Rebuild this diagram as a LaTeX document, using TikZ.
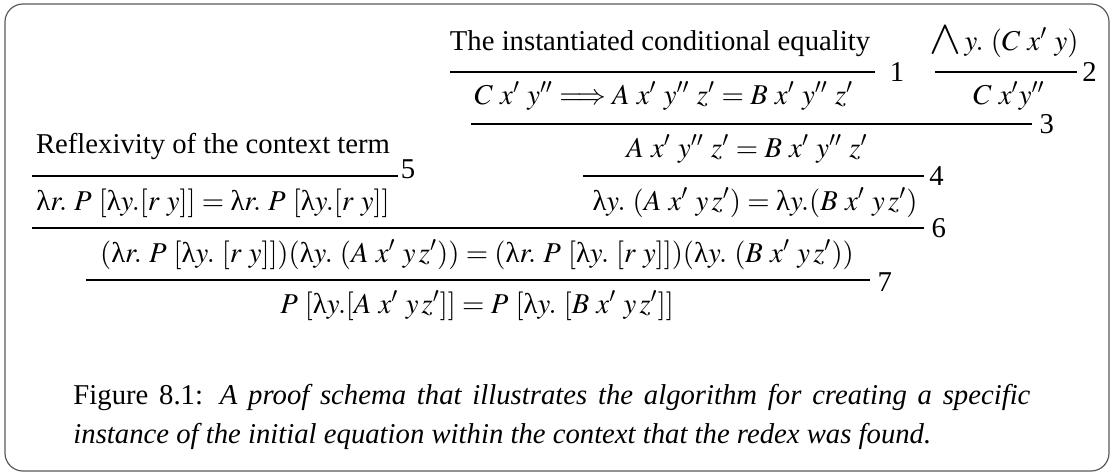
\documentclass[tikz,border=0pt]{standalone}
\usepackage{mathptmx}
\usepackage[no-math]{fontspec}
\setmainfont{Liberation Serif}
\usetikzlibrary{positioning}
\newcommand{\lmb}{\mbox{λ}}
\newcommand{\bigand}{\raisebox{-1.5pt}{\fontsize{20}{20}\selectfont$\wedge$}}
\begin{document}
\begin{tikzpicture}[x=0.418pt, y=-0.418pt,
    every node/.style={inner sep=0pt, anchor=base, font=\fontsize{12}{14.5}\selectfont},
    rule/.style={line width=1.1pt},
    lab/.style={anchor=west, inner sep=0pt}]
    \useasboundingbox (0,0) rectangle (1114,475);
    \draw[rounded corners=7.5pt, line width=0.5pt, black!65] (5,4) rectangle (1109,471);
    % premises and conclusions
    \node (ceq) at (660,50) {The instantiated conditional equality};
    \node (all) at (1004,50) {$\bigand\,y.\ (C\ x'\ y)$};
    \node (imp) at (664,104) {$C\ x'\ y'' \Longrightarrow A\ x'\ y''\ z' = B\ x'\ y''\ z'$};
    \node (cxy) at (1009,104) {$C\ x'y''$};
    \node (refl) at (213,153) {Reflexivity of the context term};
    \node (eqn) at (747,157) {$A\ x'\ y''\ z' = B\ x'\ y''\ z'$};
    \node (ctx) at (213,210) {$\lmb r.\ P\ [\lmb y.[r\ y]] = \lmb r.\ P\ [\lmb y.[r\ y]]$};
    \node (abs) at (755,210) {$\lmb y.\ (A\ x'\ y\,z') = \lmb y.(B\ x'\ y\,z')$};
    \node (app) at (477,262) {$(\lmb r.\ P\ [\lmb y.\ [r\ y]])(\lmb y.\ (A\ x'\ y\,z')) = (\lmb r.\ P\ [\lmb y.\ [r\ y]])(\lmb y.\ (B\ x'\ y\,z'))$};
    \node (res) at (477,313) {$P\ [\lmb y.[A\ x'\ y\,z']] = P\ [\lmb y.\ [B\ x'\ y\,z']]$};
    % inference lines
    \coordinate (l1a) at (450,72);  \coordinate (l1b) at (875,72);
    \coordinate (l2a) at (935,72);  \coordinate (l2b) at (1077,72);
    \coordinate (l3a) at (471,124); \coordinate (l3b) at (1032,124);
    \coordinate (l4a) at (583,176); \coordinate (l4b) at (924,176);
    \coordinate (l5a) at (32,176);  \coordinate (l5b) at (398,176);
    \coordinate (l6a) at (32,228);  \coordinate (l6b) at (924,228);
    \coordinate (l7a) at (86,280);  \coordinate (l7b) at (870,280);
    \draw[rule] (l1a) -- (l1b);
    \draw[rule] (l2a) -- (l2b);
    \draw[rule] (l3a) -- (l3b);
    \draw[rule] (l4a) -- (l4b);
    \draw[rule] (l5a) -- (l5b);
    \draw[rule] (l6a) -- (l6b);
    \draw[rule] (l7a) -- (l7b);
    % rule numbers
    \node[lab, right=6pt of l1b] (n1) {1};
    \node[lab, right=2pt of l2b] (n2) {2};
    \node[lab, right=3pt of l3b] (n3) {3};
    \node[lab, right=2pt of l4b] (n4) {4};
    \node[lab, right=1pt of l5b, yshift=3pt] (n5) {5};
    \node[lab, right=3pt of l6b] (n6) {6};
    \node[lab, right=3pt of l7b, yshift=-1pt] (n7) {7};
    % caption
    \node[anchor=base west, text width=400pt, align=justify, font=\fontsize{12}{16.3}\selectfont] (cap) at (73,404)
        {\hyphenpenalty=10000 \exhyphenpenalty=10000 \tolerance=10000
        Figure 8.1: \textit{A proof schema that illustrates the algorithm for creating a specific instance of the initial equation within the context that the redex was found.}\par};
\end{tikzpicture}
\end{document}
